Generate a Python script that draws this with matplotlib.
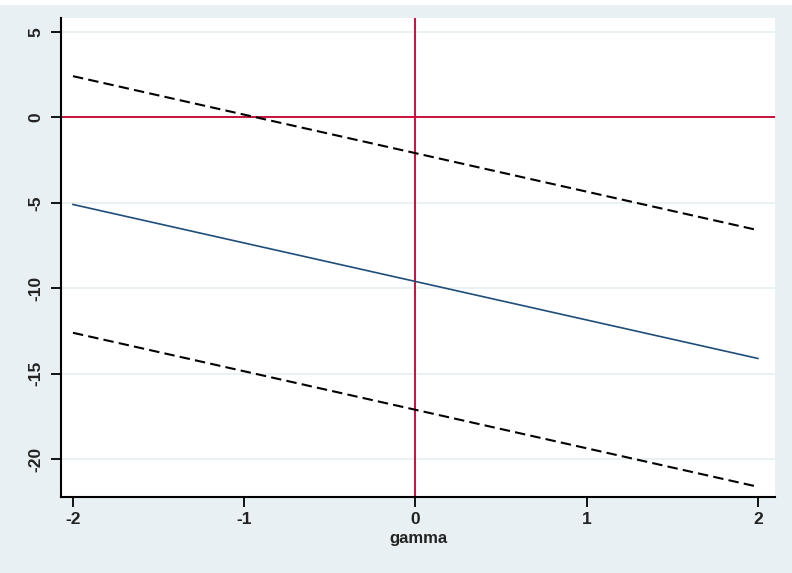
import matplotlib.pyplot as plt
import matplotlib.patches as mpatches

# values
gamma = [-2, 0, 2]
estimate = [-5.1, -9.6, -14.1]
upper_ci = [2.4, -2.1, -6.6]
lower_ci = [-12.6, -17.1, -21.6]
xticks = [-2, -1, 0, 1, 2]
yticks = [5, 0, -5, -10, -15, -20]

BG = "#e8f0f3"
RED = "#c8103e"
BLUE = "#1f4e79"

plt.rcParams['font.family'] = ['Liberation Sans', 'DejaVu Sans']

fig = plt.figure(figsize=(7.92, 5.73), dpi=100, facecolor=BG)
# thin white strip at the very top of the screenshot
fig.patches.append(mpatches.Rectangle((0, 0.992), 1, 0.008, transform=fig.transFigure,
                                      facecolor="white", edgecolor="none", zorder=0))

ax = fig.add_axes([0.077, 0.1326, 0.9015, 0.836])
ax.set_facecolor("white")

for y in yticks:
    ax.axhline(y, color="#e6eff2", lw=1.2, zorder=0)

ax.axhline(0, color=RED, lw=1.4, zorder=2)
ax.axvline(0, color=RED, lw=1.4, zorder=2)

ax.plot(gamma, upper_ci, color="black", lw=1.5, ls=(0, (5, 2.5)), zorder=3)
ax.plot(gamma, estimate, color=BLUE, lw=1.2, zorder=3)
ax.plot(gamma, lower_ci, color="black", lw=1.5, ls=(0, (5, 2.5)), zorder=3)

ax.set_xlim(-2.07, 2.1)
ax.set_ylim(-22.2, 5.8)
ax.set_xticks(xticks)
ax.set_yticks(yticks)
ax.set_xticklabels([str(v) for v in xticks], fontsize=12.5, fontweight="bold", color="#222222")
ax.set_yticklabels([str(v) for v in yticks], fontsize=12.5, fontweight="bold", color="#222222",
                   rotation=90, va="center")
ax.tick_params(axis="both", direction="out", length=7, width=1.3, color="black")
ax.tick_params(axis="y", pad=6)
ax.tick_params(axis="x", pad=4)

for side in ["top", "right"]:
    ax.spines[side].set_visible(False)
for side in ["left", "bottom"]:
    ax.spines[side].set_linewidth(1.5)

ax.set_xlabel("gamma", fontsize=12, fontweight="bold", color="#222222", labelpad=3)

fig.savefig("out.png", dpi=100, facecolor=BG)
